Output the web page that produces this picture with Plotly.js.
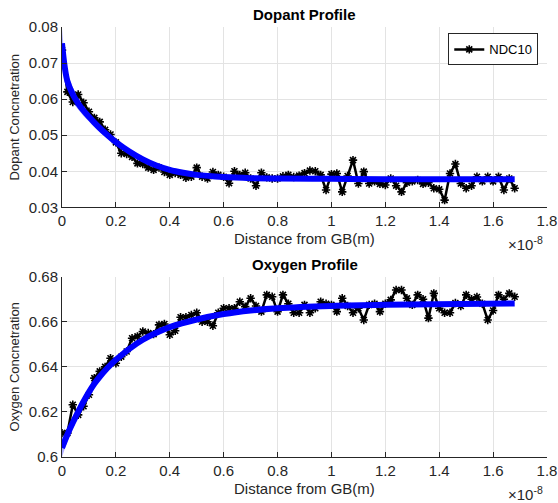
<!DOCTYPE html>
<html><head><meta charset="utf-8">
<script src="https://cdn.plot.ly/plotly-3.0.1.min.js"></script>
<style>html,body{margin:0;padding:0;background:#fff}#c{width:558px;height:503px}</style>
</head><body><div id="c"></div>
<script>
// x in units of 1e-8 m
const xData = [0,0.02,0.04,0.06,0.08,0.10,0.12,0.14,0.16,0.18,0.20,0.22,0.24,0.26,0.28,0.30,0.32,0.34,0.36,0.38,
  0.40,0.42,0.44,0.46,0.48,0.50,0.52,0.54,0.56,0.58,0.60,0.62,0.64,0.66,0.68,0.70,0.72,0.74,0.76,0.78,
  0.80,0.82,0.84,0.86,0.88,0.90,0.92,0.94,0.96,0.98,1.00,1.02,1.04,1.06,1.08,1.10,1.12,1.14,1.16,1.18,
  1.20,1.22,1.24,1.26,1.28,1.30,1.32,1.34,1.36,1.38,1.40,1.42,1.44,1.46,1.48,1.50,1.52,1.54,1.56,1.58,
  1.60,1.62,1.64,1.66,1.68];
const dopant = [0.0736,0.0620,0.0592,0.0613,0.0590,0.0565,0.0548,0.0537,0.0515,0.0502,0.0480,0.0450,0.0448,0.0440,0.0422,0.0420,0.0410,0.0404,0.0410,0.0398,
  0.0390,0.0395,0.0390,0.0382,0.0385,0.0410,0.0385,0.0380,0.0398,0.0390,0.0385,0.0367,0.0400,0.0390,0.0396,0.0380,0.0360,0.0396,0.0383,0.0380,
  0.0380,0.0386,0.0390,0.0384,0.0388,0.0395,0.0402,0.0400,0.0390,0.0348,0.0392,0.0394,0.0343,0.0387,0.0431,0.0366,0.0399,0.0366,0.0372,0.0365,
  0.0362,0.0380,0.0360,0.0343,0.0368,0.0372,0.0376,0.0365,0.0368,0.0353,0.0350,0.0320,0.0394,0.0420,0.0366,0.0353,0.0360,0.0385,0.0372,0.0385,
  0.0372,0.0385,0.0348,0.0380,0.0353];
const oxygen = [0.6106,0.6106,0.6232,0.6187,0.6225,0.6276,0.6350,0.6380,0.6400,0.6438,0.6416,0.6445,0.6468,0.6527,0.6535,0.6557,0.6550,0.6545,0.6586,0.6590,
  0.6542,0.6560,0.6620,0.6620,0.6630,0.6640,0.6600,0.6600,0.6582,0.6640,0.6660,0.6660,0.6660,0.6689,0.6667,0.6704,0.6670,0.6645,0.6719,0.6711,
  0.6645,0.6719,0.6680,0.6640,0.6640,0.6675,0.6640,0.6660,0.6689,0.6680,0.6675,0.6645,0.6704,0.6670,0.6640,0.6660,0.6608,0.6675,0.6680,0.6645,
  0.6680,0.6697,0.6741,0.6741,0.6704,0.6675,0.6719,0.6700,0.6616,0.6726,0.6660,0.6640,0.6640,0.6683,0.6670,0.6719,0.6700,0.6710,0.6680,0.6608,
  0.6650,0.6719,0.6700,0.6726,0.6711];

const dopFitX = [0,0.01,0.02,0.04,0.06,0.08,0.10,0.12,0.14,0.16,0.18,0.20,0.25,0.30,0.35,0.40,0.45,0.50,0.60,0.70,0.80,1.00,1.20,1.68];
const dopFit  = [0.0755,0.0690,0.0650,0.0613,0.0588,0.0568,0.0551,0.0535,0.0520,0.0506,0.0493,0.0481,0.0455,0.0433,0.0416,0.0404,0.0396,0.0390,0.0384,0.0381,0.0380,0.0379,0.0378,0.0378];
const dopHi   = [0.0795,0.0720,0.0675,0.0633,0.0605,0.0583,0.0564,0.0547,0.0531,0.0516,0.0502,0.0489,0.0461,0.0438,0.0420,0.0407,0.0398,0.0392,0.0385,0.0382,0.0381,0.0380,0.0379,0.0379];
const dopLo   = [0.0715,0.0660,0.0625,0.0593,0.0571,0.0553,0.0538,0.0523,0.0509,0.0496,0.0484,0.0473,0.0449,0.0428,0.0412,0.0401,0.0394,0.0388,0.0383,0.0380,0.0379,0.0378,0.0377,0.0377];

const oxFitX = [0,0.02,0.04,0.06,0.08,0.10,0.12,0.14,0.16,0.18,0.20,0.25,0.30,0.35,0.40,0.50,0.60,0.70,0.80,1.00,1.20,1.68];
const oxFit  = [0.6040,0.6100,0.6152,0.6200,0.6246,0.6288,0.6325,0.6356,0.6384,0.6409,0.6431,0.6480,0.6520,0.6551,0.6576,0.6610,0.6634,0.6650,0.6660,0.6670,0.6675,0.6681];
const oxHi   = [0.6080,0.6132,0.6180,0.6225,0.6268,0.6307,0.6342,0.6371,0.6397,0.6421,0.6442,0.6488,0.6526,0.6556,0.6580,0.6613,0.6636,0.6652,0.6662,0.6671,0.6676,0.6682];
const oxLo   = [0.6000,0.6068,0.6124,0.6175,0.6224,0.6269,0.6308,0.6341,0.6371,0.6397,0.6420,0.6472,0.6514,0.6546,0.6572,0.6607,0.6632,0.6648,0.6658,0.6669,0.6674,0.6680];

const band = 'rgba(30,30,255,0.35)';
const mk = {symbol:'asterisk-open',size:7,color:'#000',line:{color:'#000',width:1.6}};
const traces = [
  {x:dopFitX, y:dopHi, xaxis:'x', yaxis:'y', mode:'lines', line:{width:0,color:band,shape:'spline'}, showlegend:false, hoverinfo:'skip'},
  {x:dopFitX, y:dopLo, xaxis:'x', yaxis:'y', mode:'lines', line:{width:0,color:band,shape:'spline'}, fill:'tonexty', fillcolor:band, showlegend:false, hoverinfo:'skip'},
  {x:xData, y:dopant, xaxis:'x', yaxis:'y', mode:'lines+markers', name:'NDC10',
   line:{color:'#000',width:2.5}, marker:mk},
  {x:dopFitX, y:dopFit, xaxis:'x', yaxis:'y', mode:'lines', line:{color:'#0000ff',width:6,shape:'spline'}, showlegend:false},
  {x:oxFitX, y:oxHi, xaxis:'x2', yaxis:'y2', mode:'lines', line:{width:0,color:band,shape:'spline'}, showlegend:false, hoverinfo:'skip'},
  {x:oxFitX, y:oxLo, xaxis:'x2', yaxis:'y2', mode:'lines', line:{width:0,color:band,shape:'spline'}, fill:'tonexty', fillcolor:band, showlegend:false, hoverinfo:'skip'},
  {x:xData, y:oxygen, xaxis:'x2', yaxis:'y2', mode:'lines+markers', name:'NDC10', showlegend:false,
   line:{color:'#000',width:2.5}, marker:mk},
  {x:oxFitX, y:oxFit, xaxis:'x2', yaxis:'y2', mode:'lines', line:{color:'#0000ff',width:6,shape:'spline'}, showlegend:false}
];
const F = 'Liberation Sans, Arial, sans-serif';
const TC = '#262626';
const axX = (anchor) => ({domain:[0,1], anchor:anchor, range:[0,1.8], dtick:0.2, tick0:0,
  showgrid:true, gridcolor:'#e3e3e3', showline:true, linecolor:TC, linewidth:1, mirror:false,
  ticks:'inside', ticklen:5, tickcolor:TC, zeroline:false,
  tickfont:{family:F,size:15,color:TC}});
const axY = (dom, anchor, rng, dt, txt, fmt) => ({domain:dom, anchor:anchor, range:rng, dtick:dt, tickformat:fmt,
  showgrid:true, gridcolor:'#e3e3e3', showline:true, linecolor:TC, ticks:'inside', ticklen:5, tickcolor:TC, zeroline:false,
  tickfont:{family:F,size:15,color:TC},
  title:{text:txt, font:{family:F,size:13,color:TC}, standoff:6}});
const ann = (text, y, yshift, opts) => Object.assign({text:text, xref:'paper', yref:'paper', x:0.5, y:y, yshift:yshift,
  xanchor:'center', showarrow:false}, opts);
const layout = {
  width:558, height:503, margin:{l:62,r:11,t:27,b:46},
  paper_bgcolor:'#fff', plot_bgcolor:'#fff',
  font:{family:F,color:TC},
  xaxis: axX('y'),
  yaxis: axY([0.5806,1],'x',[0.03,0.08],0.01,'Dopant Concnetration','.2f'),
  xaxis2: axX('y2'),
  yaxis2: axY([0,0.4194],'x2',[0.6,0.68],0.02,'Oxygen Concnetration',''),
  showlegend:true,
  legend:{x:0.982, xanchor:'right', y:0.985, yanchor:'top', bgcolor:'#fff', bordercolor:TC, borderwidth:1,
    font:{family:F,size:13,color:'#000'}, itemwidth:30, tracegroupgap:0},
  annotations:[
    ann('<b>Dopant Profile</b>', 1, 2, {yanchor:'bottom', font:{family:F,size:15,color:'#000'}}),
    ann('<b>Oxygen Profile</b>', 0.4194, 2, {yanchor:'bottom', font:{family:F,size:15,color:'#000'}}),
    ann('Distance from GB(m)', 0.5806, -21, {yanchor:'top', font:{family:F,size:15,color:TC}}),
    ann('Distance from GB(m)', 0, -21, {yanchor:'top', font:{family:F,size:15,color:TC}}),
    ann('×10<sup>-8</sup>', 0.5806, -25, {x:1, xshift:-2, xanchor:'right', yanchor:'top', font:{family:F,size:15,color:TC}}),
    ann('×10<sup>-8</sup>', 0, -25, {x:1, xshift:-2, xanchor:'right', yanchor:'top', font:{family:F,size:15,color:TC}})
  ]
};
Plotly.newPlot('c', traces, layout, {displayModeBar:false, staticPlot:true});
</script></body></html>
